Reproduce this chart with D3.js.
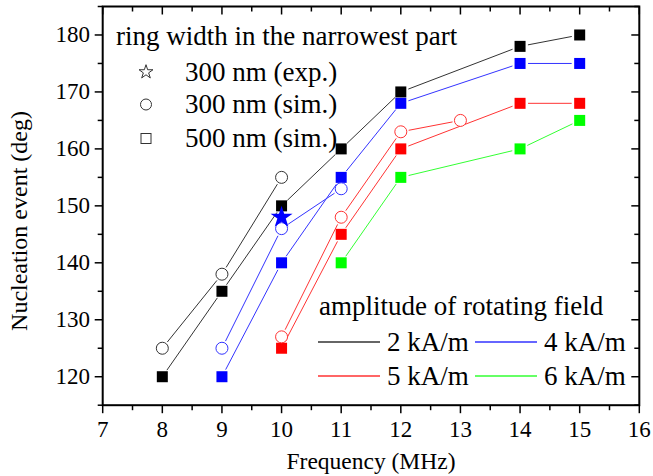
<!DOCTYPE html>
<html><head><meta charset="utf-8">
<script src="https://cdn.jsdelivr.net/npm/d3@7"></script>
<style>
html,body{margin:0;padding:0;background:#fff;}
svg text{font-family:"Liberation Serif",serif !important;fill:#000;}
</style></head>
<body><svg id="c" width="653" height="476" font-family="Liberation Serif, serif"></svg>
<script>
// ---- data ----
const xTicks = [7,8,9,10,11,12,13,14,15,16];
const yTicks = [120,130,140,150,160,170,180];
const sq2kX = [8,9,10,11,12,14,15];   const sq2kY = [120,135,150,160,170,178,180];
const ci2kX = [8,9,10];               const ci2kY = [125,138,155];
const sq4kX = [9,10,11,12,14,15];     const sq4kY = [120,140,155,168,175,175];
const ci4kX = [9,10,11];              const ci4kY = [125,146,153];
const sq5kX = [10,11,12,14,15];       const sq5kY = [125,145,160,168,168];
const ci5kX = [10,11,12,13];          const ci5kY = [127,148,163,165];
const sq6kX = [11,12,14,15];          const sq6kY = [140,155,160,165];
const starX = [10];                   const starY = [148];
const fieldLabels = ["2 kA/m","4 kA/m","5 kA/m","6 kA/m"];
const widthLabels = ["300 nm (exp.)","300 nm (sim.)","500 nm (sim.)"];

const colors = {"2":"#000000","4":"#0000ff","5":"#ff0000","6":"#00ff00"};
const lineColors = {"2":"#333333","4":"#3333ff","5":"#ff3333","6":"#33ff33"};
const FF = "Liberation Serif, serif";

const svg = d3.select("#c");
const L = 102.7, R = 639.3, T = 6.5, B = 405.2;
const x = d3.scaleLinear().domain([7,16]).range([L,R]);
const y = d3.scaleLinear().domain([115,185]).range([B,T]);

const zip = (xs,ys)=>xs.map((v,i)=>[v,ys[i]]);

// ---- series lines with gaps at markers ----
function drawLine(pts, col, gap){
  const g = svg.append("g");
  for(let i=0;i<pts.length-1;i++){
    const x1=x(pts[i][0]), y1=y(pts[i][1]), x2=x(pts[i+1][0]), y2=y(pts[i+1][1]);
    const dx=x2-x1, dy=y2-y1, len=Math.hypot(dx,dy);
    const ux=dx/len, uy=dy/len;
    g.append("line").attr("x1",x1+ux*gap).attr("y1",y1+uy*gap)
      .attr("x2",x2-ux*gap).attr("y2",y2-uy*gap)
      .attr("stroke",col).attr("stroke-width",1);
  }
}
const series = [
  {pts:zip(sq2kX,sq2kY),k:"2",m:"sq"},{pts:zip(ci2kX,ci2kY),k:"2",m:"ci"},
  {pts:zip(sq4kX,sq4kY),k:"4",m:"sq"},{pts:zip(ci4kX,ci4kY),k:"4",m:"ci"},
  {pts:zip(sq5kX,sq5kY),k:"5",m:"sq"},{pts:zip(ci5kX,ci5kY),k:"5",m:"ci"},
  {pts:zip(sq6kX,sq6kY),k:"6",m:"sq"}
];
series.forEach(s=>drawLine(s.pts, lineColors[s.k], 8));

// markers
series.forEach(s=>{
  const g=svg.append("g");
  if(s.m==="sq"){
    g.selectAll("rect").data(s.pts).join("rect")
      .attr("x",d=>x(d[0])-5.5).attr("y",d=>y(d[1])-5.5)
      .attr("width",11).attr("height",11).attr("fill",colors[s.k]);
  } else {
    g.selectAll("circle").data(s.pts).join("circle")
      .attr("cx",d=>x(d[0])).attr("cy",d=>y(d[1])).attr("r",6)
      .attr("fill","#fff").attr("stroke",lineColors[s.k]).attr("stroke-width",1);
  }
});
const starPath = d3.symbol().type(d3.symbolStar).size(150)();
svg.append("g").selectAll("path").data(zip(starX,starY)).join("path")
  .attr("d",starPath).attr("transform",d=>`translate(${x(d[0])},${y(d[1])})`)
  .attr("fill","#0000ff");

// ---- axes ----
const ax = svg.append("g").attr("stroke","#000").attr("fill","none");
ax.append("rect").attr("x",L).attr("y",T).attr("width",R-L).attr("height",B-T).attr("stroke-width",2);
const xMinor = d3.range(7,16.01,0.5);
xMinor.forEach(v=>{
  const major = Math.abs(v-Math.round(v))<1e-6;
  const len = major?8:5;
  ax.append("line").attr("x1",x(v)).attr("x2",x(v)).attr("y1",B).attr("y2",B+len).attr("stroke-width",1.5);
  ax.append("line").attr("x1",x(v)).attr("x2",x(v)).attr("y1",T).attr("y2",T+len).attr("stroke-width",1.5);
});
const yMinor = d3.range(115,185.01,5);
yMinor.forEach(v=>{
  const major = v%10===0;
  const len = major?8:5;
  ax.append("line").attr("y1",y(v)).attr("y2",y(v)).attr("x1",L).attr("x2",L-len).attr("stroke-width",1.5);
  ax.append("line").attr("y1",y(v)).attr("y2",y(v)).attr("x1",R).attr("x2",R-len).attr("stroke-width",1.5);
});
svg.append("g").selectAll("text").data(xTicks).join("text")
  .attr("x",d=>x(d)).attr("y",437).attr("text-anchor","middle")
  .attr("font-family",FF).attr("font-size",23).text(d=>d);
svg.append("g").selectAll("text").data(yTicks).join("text")
  .attr("x",90).attr("y",d=>y(d)+7.5).attr("text-anchor","end")
  .attr("font-family",FF).attr("font-size",23).text(d=>d);
svg.append("text").attr("x",(L+R)/2).attr("y",469).attr("text-anchor","middle")
  .attr("font-family",FF).attr("font-size",23.5).text("Frequency (MHz)");
svg.append("text").attr("transform",`translate(27,221) rotate(-90)`).attr("text-anchor","middle")
  .attr("font-family",FF).attr("font-size",24).text("Nucleation event (deg)");

// ---- legend 1 ----
const lg1 = svg.append("g");
lg1.append("text").attr("x",116).attr("y",45).attr("font-family",FF).attr("font-size",27).text("ring width in the narrowest part");
const rowY = [72,104.5,138.5];
const hollowStar = d3.symbol().type(d3.symbolStar).size(60)();
lg1.append("path").attr("d",hollowStar).attr("transform",`translate(146,${rowY[0]})`)
  .attr("fill","none").attr("stroke","#333").attr("stroke-width",1);
lg1.append("circle").attr("cx",146).attr("cy",rowY[1]).attr("r",5.5).attr("fill","none").attr("stroke","#333");
lg1.append("rect").attr("x",141).attr("y",rowY[2]-5).attr("width",10).attr("height",10).attr("fill","none").attr("stroke","#333");
lg1.selectAll("text.r").data(widthLabels).join("text").attr("class","r")
  .attr("x",185).attr("y",(d,i)=>rowY[i]+8.5).attr("font-family",FF).attr("font-size",27).text(d=>d);

// ---- legend 2 ----
const lg2 = svg.append("g");
lg2.append("text").attr("x",319).attr("y",315).attr("font-family",FF).attr("font-size",27).text("amplitude of rotating field");
const keys = ["2","4","5","6"];
const pos = [[318,342],[475,342],[318,376],[475,376]];
keys.forEach((k,i)=>{
  const [px,py]=pos[i];
  lg2.append("line").attr("x1",px).attr("x2",px+62).attr("y1",py).attr("y2",py)
    .attr("stroke",lineColors[k]).attr("stroke-width",1.5);
  lg2.append("text").attr("x",px+69).attr("y",py+8.5).attr("font-family",FF).attr("font-size",27).text(fieldLabels[i]);
});
</script></body></html>
